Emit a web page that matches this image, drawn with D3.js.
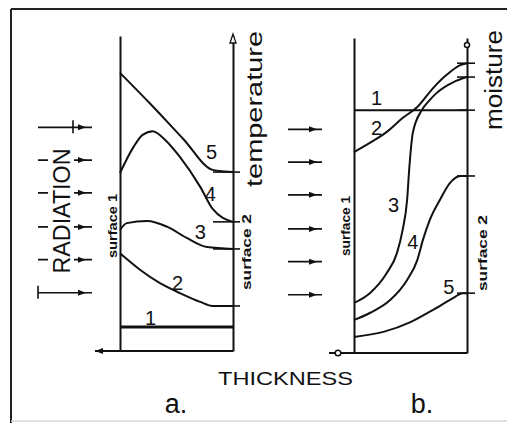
<!DOCTYPE html>
<html>
<head>
<meta charset="utf-8">
<script src="https://cdn.jsdelivr.net/npm/d3@7"></script>
<style>
  body { margin: 0; background: #fff; }
  svg { display: block; }
  text { font-family: "Liberation Sans", Arial, sans-serif; fill: #111; }
</style>
</head>
<body>
<svg width="507" height="423"></svg>
<script>
// curve ids, in order 1..5
var curveIds = ["1", "2", "3", "4", "5"];

// a. temperature across thickness: [thickness (0 = surface 1, 1 = surface 2), temperature]
var temp1 = [[0, 7.6], [1, 7.6]];
var temp2 = [[0, 31], [0.18, 25.7], [0.35, 21.6], [0.53, 18.4], [0.71, 15.6], [0.82, 14.3], [1, 14.3]];
var temp3 = [[0, 38.4], [0.06, 40.6], [0.24, 41.3], [0.42, 39.4], [0.59, 35.9], [0.77, 33], [1, 32.4]];
var temp4 = [[0, 56.5], [0.12, 64.8], [0.2, 68.6], [0.29, 69.8], [0.4, 67], [0.53, 61.6], [0.71, 52.1], [0.82, 45.1], [1, 41]];
var temp5 = [[0, 88.3], [0.27, 78.4], [0.56, 67.3], [0.82, 57.5], [0.93, 57], [1, 56.8]];
var tempCurves = [temp1, temp2, temp3, temp4, temp5];
var tempLabels = [[0.27, 10.5], [0.51, 21.6], [0.71, 37.8], [0.8, 50], [0.81, 63.2]];

// b. moisture across thickness
var moist1 = [[0, 77.1], [1, 77.1]];
var moist2 = [[0, 63.8], [0.14, 66.7], [0.29, 70.2], [0.43, 74.6], [0.56, 78.1], [0.7, 84.1], [0.82, 88.3], [0.94, 91.4], [1, 92]];
var moist3 = [[0, 15.9], [0.14, 19], [0.29, 25.4], [0.38, 31.7], [0.43, 39], [0.47, 48.6], [0.49, 59], [0.52, 69.8], [0.6, 77.1], [0.67, 80.3], [0.73, 82.5], [0.88, 86], [1, 87.6]];
var moist4 = [[0, 10.5], [0.14, 12.7], [0.32, 16.8], [0.47, 23.2], [0.56, 29.5], [0.61, 35.9], [0.67, 42.2], [0.76, 48.6], [0.85, 54], [0.94, 56.2], [1, 56.2]];
var moist5 = [[0, 5.1], [0.26, 6.7], [0.5, 9.8], [0.7, 13.7], [0.88, 17.5], [0.96, 19], [1, 19]];
var moistCurves = [moist1, moist2, moist3, moist4, moist5];
var moistLabels = [[0.2, 81], [0.2, 71.4], [0.35, 47], [0.52, 35.2], [0.84, 21]];

// incoming radiation arrows (levels on the same 0-100 scale)
var radiationLevels = [71, 60.6, 50.2, 39.4, 29, 18.5];

var svg = d3.select("svg");

// frame of the scanned figure
svg.append("line").attr("x1", 11).attr("y1", 9).attr("x2", 507).attr("y2", 9)
  .attr("stroke", "#222").attr("stroke-width", 2);
svg.append("line").attr("x1", 11).attr("y1", 9).attr("x2", 11).attr("y2", 423)
  .attr("stroke", "#222").attr("stroke-width", 2);
svg.append("line").attr("x1", 11).attr("y1", 421).attr("x2", 507).attr("y2", 421)
  .attr("stroke", "#d6d6d6").attr("stroke-width", 1.5);

var xA = d3.scaleLinear().domain([0, 1]).range([120, 233]),
  yA = d3.scaleLinear().domain([0, 100]).range([351, 36]),
  xB = d3.scaleLinear().domain([0, 1]).range([354, 467]),
  yB = d3.scaleLinear().domain([0, 100]).range([353, 38]);

function panel(x, y, curves, labels, tickLeft, tickRight, skipFirstTick) {
  var g = svg.append("g");

  // surfaces drawn as bare axes
  g.append("g").attr("transform", "translate(" + x(0) + ",0)")
    .call(d3.axisLeft(y).tickValues([]).tickSizeOuter(0));
  g.append("g").attr("transform", "translate(" + x(1) + ",0)")
    .call(d3.axisRight(y).tickValues([]).tickSizeOuter(0));
  g.selectAll(".domain").attr("stroke", "#111").attr("stroke-width", 2);

  // thickness baseline
  g.append("line").attr("x1", x(0) - 25).attr("x2", x(1))
    .attr("y1", y(0)).attr("y2", y(0))
    .attr("stroke", "#111").attr("stroke-width", 2);

  var line = d3.line()
    .x(function (d) { return x(d[0]); })
    .y(function (d) { return y(d[1]); })
    .curve(d3.curveMonotoneX);

  g.selectAll("path.curve")
    .data(curves)
    .enter().append("path")
    .attr("class", "curve")
    .attr("d", line)
    .attr("fill", "none")
    .attr("stroke", "#111")
    .attr("stroke-width", function (d, i) { return i === 0 && skipFirstTick ? 3 : 2; });

  // end ticks on surface 2
  g.selectAll("line.endtick")
    .data(curves.filter(function (d, i) { return !(skipFirstTick && i === 0); }))
    .enter().append("line")
    .attr("class", "endtick")
    .attr("x1", x(1) - tickLeft).attr("x2", x(1) + tickRight)
    .attr("y1", function (d) { return y(d[d.length - 1][1]); })
    .attr("y2", function (d) { return y(d[d.length - 1][1]); })
    .attr("stroke", "#111").attr("stroke-width", 1.6);

  g.selectAll("text.num")
    .data(labels)
    .enter().append("text")
    .attr("class", "num")
    .attr("x", function (d) { return x(d[0]); })
    .attr("y", function (d) { return y(d[1]); })
    .attr("dy", "0.36em")
    .attr("text-anchor", "middle")
    .style("font-size", "20px")
    .text(function (d, i) { return curveIds[i]; });

  return g;
}

var gA = panel(xA, yA, tempCurves, tempLabels, 20, 7, true);
var gB = panel(xB, yB, moistCurves, moistLabels, 10, 8, false);

// arrow tips on the axes
gA.append("path")
  .attr("d", "M" + (xA(0) - 25) + "," + yA(0) + "l8,-3v6z")
  .attr("fill", "#111");
gA.append("path")
  .attr("d", "M" + xA(1) + "," + (yA(100) - 2) + "l-3,9h6z")
  .attr("fill", "#fff").attr("stroke", "#111").attr("stroke-width", 1.3);
gB.append("circle").attr("cx", xB(0) - 16).attr("cy", yB(0)).attr("r", 2.8)
  .attr("fill", "#fff").attr("stroke", "#111").attr("stroke-width", 1.5);
gB.append("circle").attr("cx", xB(1)).attr("cy", yB(100) + 7).attr("r", 2.5)
  .attr("fill", "#fff").attr("stroke", "#111").attr("stroke-width", 1.5);

// radiation arrows
function arrows(y, x0, x1, tip) {
  var a = svg.append("g");
  a.selectAll("line")
    .data(radiationLevels)
    .enter().append("line")
    .attr("x1", x0).attr("x2", x1)
    .attr("y1", function (d) { return y(d); })
    .attr("y2", function (d) { return y(d); })
    .attr("stroke", "#111").attr("stroke-width", 1.6);
  a.selectAll("path")
    .data(radiationLevels)
    .enter().append("path")
    .attr("d", function (d) { return "M" + (tip + 4) + "," + y(d) + "l-8,-3v6z"; })
    .attr("fill", "#111");
  return a;
}
arrows(yA, 38, 92, 82);
arrows(yB, 288, 322, 313);

// small bars on the outer radiation arrows
svg.append("line").attr("x1", 73).attr("x2", 73).attr("y1", yA(71) - 7).attr("y2", yA(71) + 6)
  .attr("stroke", "#111").attr("stroke-width", 1.6);
svg.append("line").attr("x1", 38).attr("x2", 38).attr("y1", yA(18.5) - 7).attr("y2", yA(18.5) + 6)
  .attr("stroke", "#111").attr("stroke-width", 1.6);

// RADIATION breaks the arrows
svg.append("rect").attr("x", 48).attr("y", 146).attr("width", 26).attr("height", 130).attr("fill", "#fff");

function vtext(x, y, str, size, len, weight) {
  svg.append("text")
    .attr("transform", "translate(" + x + "," + y + ") rotate(-90)")
    .attr("text-anchor", "middle")
    .attr("textLength", len)
    .attr("lengthAdjust", "spacingAndGlyphs")
    .style("font-size", size + "px")
    .style("font-weight", weight || "normal")
    .text(str);
}

vtext(70, 211, "RADIATION", 23, 125);
vtext(262, 109, "temperature", 22, 156);
vtext(502, 80, "moisture", 23, 100);
vtext(117, 226, "surface 1", 13, 64, "bold");
vtext(251, 252, "surface 2", 13, 76, "bold");
vtext(350, 226, "surface 1", 13, 60, "bold");
vtext(487, 253, "surface 2", 13, 76, "bold");

svg.append("text").attr("x", 218).attr("y", 385)
  .attr("textLength", 135).attr("lengthAdjust", "spacingAndGlyphs")
  .style("font-size", "18px").text("THICKNESS");
svg.append("text").attr("x", 176).attr("y", 413).attr("text-anchor", "middle")
  .style("font-size", "27px").text("a.");
svg.append("text").attr("x", 422).attr("y", 413).attr("text-anchor", "middle")
  .style("font-size", "27px").text("b.");
</script>
</body>
</html>
